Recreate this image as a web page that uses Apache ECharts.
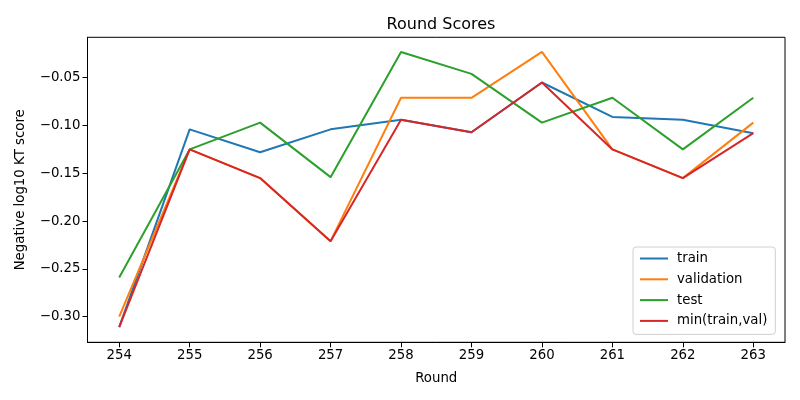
<!DOCTYPE html>
<html>
<head>
<meta charset="utf-8">
<script src="https://cdn.jsdelivr.net/npm/echarts@6/dist/echarts.min.js"></script>
<style>html,body{margin:0;padding:0;background:#fff}#c{width:800px;height:400px}</style>
</head>
<body>
<div id="c"></div>
<script>
var rounds = [254, 255, 256, 257, 258, 259, 260, 261, 262, 263];
var train = [-0.311, -0.104, -0.128, -0.104, -0.094, -0.107, -0.055, -0.091, -0.094, -0.108];
var validation = [-0.300, -0.125, -0.155, -0.221, -0.071, -0.071, -0.023, -0.125, -0.155, -0.097];
var test = [-0.259, -0.125, -0.097, -0.154, -0.023, -0.046, -0.097, -0.071, -0.125, -0.071];
var minTrainVal = [-0.311, -0.125, -0.155, -0.221, -0.094, -0.107, -0.055, -0.125, -0.155, -0.108];
var yTicks = [-0.30, -0.25, -0.20, -0.15, -0.10, -0.05];

var font = 'DejaVu Sans';
function pairs(arr){ return rounds.map(function(r,i){ return [r, arr[i]]; }); }
function fmtY(v){ var s = Math.abs(v).toFixed(2); return (v < 0 ? '\u2212' : '') + s; }

var chart = echarts.init(document.getElementById('c'), null, {renderer:'canvas'});
var names = ['train','validation','test','min(train,val)'];
var colors = ['#1f77b4','#ff7f0e','#2ca02c','#d62728'];
var datas = [train, validation, test, minTrainVal];
chart.setOption({
  animation: false,
  backgroundColor: '#fff',
  title: {
    text: 'Round Scores', left: 436, top: 12, textAlign: 'center',
    textStyle: {fontFamily: font, fontSize: 16, fontWeight: 'normal', color: '#000'}
  },
  grid: {
    left: 87.5, right: 15, top: 37.3, bottom: 57.7,
    show: true, borderColor: '#000', borderWidth: 1, backgroundColor: 'transparent'
  },
  legend: {
    orient: 'vertical', left: 633, top: 247,
    data: names,
    icon: 'path://M0,0 L28,0 L28,2 L0,2 Z',
    itemWidth: 28, itemHeight: 2, itemGap: 7.8,
    padding: [5, 8, 7, 7],
    backgroundColor: 'rgba(255,255,255,0.8)', borderColor: '#d0d0d0', borderWidth: 1, borderRadius: 3,
    textStyle: {fontFamily: font, fontSize: 13.3, color: '#000', padding: [0,0,0,4]}
  },
  xAxis: {
    type: 'value', min: 253.55, max: 263.45,
    name: 'Round', nameLocation: 'middle', nameGap: 30,
    nameTextStyle: {fontFamily: font, fontSize: 13.3, color: '#000'},
    axisLine: {show: true, onZero: false, lineStyle: {color: '#000', width: 1}},
    axisTick: {show: true, length: 5, customValues: rounds, lineStyle: {color: '#000'}},
    axisLabel: {customValues: rounds, fontFamily: font, fontSize: 13.3, color: '#000', margin: 7},
    splitLine: {show: false}
  },
  yAxis: {
    type: 'value', min: -0.3268, max: -0.0077,
    name: 'Negative log10 KT score', nameLocation: 'middle', nameGap: 60,
    nameTextStyle: {fontFamily: font, fontSize: 13.3, color: '#000'},
    axisLine: {show: true, onZero: false, lineStyle: {color: '#000', width: 1}},
    axisTick: {show: true, length: 5, customValues: yTicks, lineStyle: {color: '#000'}},
    axisLabel: {customValues: yTicks, formatter: fmtY, fontFamily: font, fontSize: 13.3, color: '#000', margin: 7},
    splitLine: {show: false}
  },
  series: names.map(function(n, i){
    return {
      name: n, type: 'line', data: pairs(datas[i]),
      symbol: 'none', showSymbol: false,
      lineStyle: {color: colors[i], width: 2},
      itemStyle: {color: colors[i]},
      z: 2 + i
    };
  })
});
</script>
</body>
</html>
